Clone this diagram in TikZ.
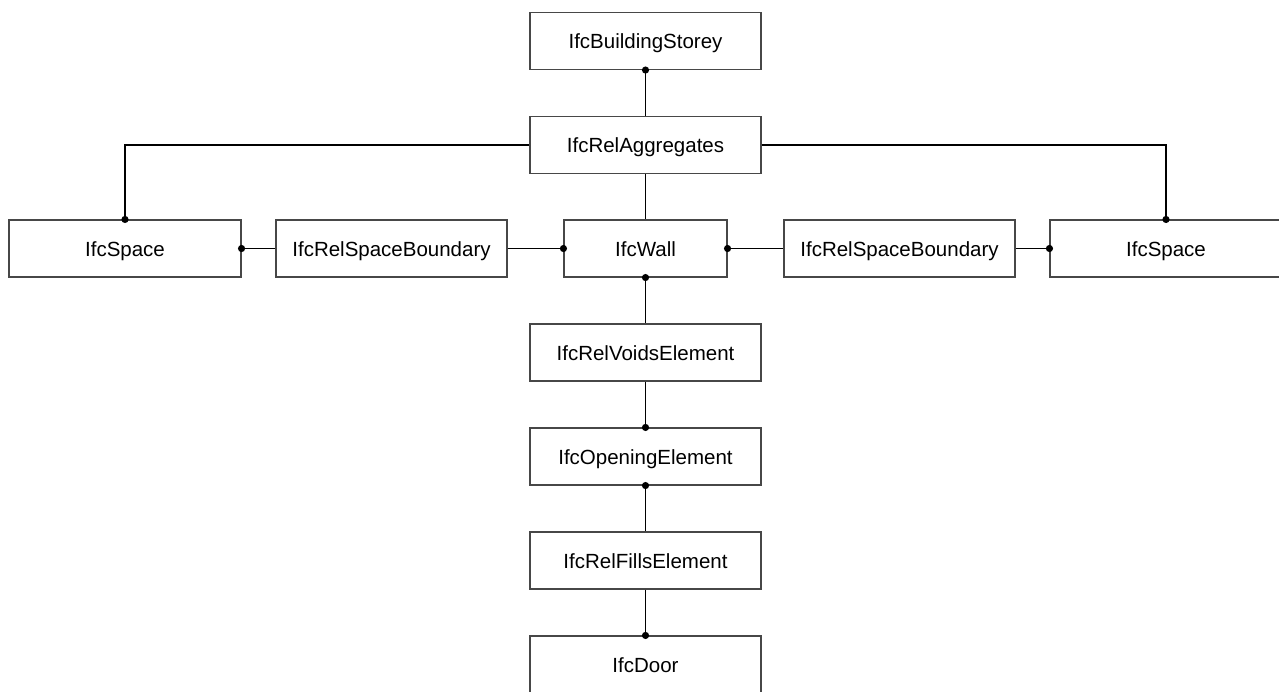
\documentclass[tikz,border=0pt]{standalone}
\usepackage{fontspec}
\setmainfont{Liberation Sans}
\begin{document}
\begin{tikzpicture}[x=1pt,y=-1pt,
  entity/.style={draw=black!72,line width=1.1pt,fill=white,minimum height=57pt,
    inner sep=0pt,text height=15.8pt,text depth=0pt,font=\fontsize{20.5}{24}\selectfont},
  wide/.style={entity,minimum width=231pt},
  link/.style={draw=black,line width=1.1pt},
  jdot/.style={fill=black}]
\useasboundingbox (0,0) rectangle (1279,691);

% boxes of the IFC entities
\node[wide] (storey) at (645.5,41) {IfcBuildingStorey};
\node[wide] (agg) at (645.5,145) {IfcRelAggregates};
\node[entity,minimum width=232pt] (spaceL) at (125,248.5) {IfcSpace};
\node[wide] (rsbL) at (391.5,248.5) {IfcRelSpaceBoundary};
\node[entity,minimum width=163pt] (wall) at (645.5,248.5) {IfcWall};
\node[wide] (rsbR) at (899.5,248.5) {IfcRelSpaceBoundary};
\node[entity,minimum width=232pt] (spaceR) at (1166,248.5) {IfcSpace};
\node[wide] (voids) at (645.5,352.5) {IfcRelVoidsElement};
\node[wide] (opening) at (645.5,456.5) {IfcOpeningElement};
\node[wide] (fills) at (645.5,560.5) {IfcRelFillsElement};
\node[wide] (door) at (645.5,664.5) {IfcDoor};

% relationship connectors
\draw[link] (storey.south) -- (agg.north);
\draw[link] (agg.west) -| (spaceL.north);
\draw[link] (agg.east) -| (spaceR.north);
\draw[link] (agg.south) -- (wall.north);
\draw[link] (rsbL.west) -- (spaceL.east);
\draw[link] (rsbL.east) -- (wall.west);
\draw[link] (rsbR.west) -- (wall.east);
\draw[link] (rsbR.east) -- (spaceR.west);
\draw[link] (wall.south) -- (voids.north);
\draw[link] (voids.south) -- (opening.north);
\draw[link] (opening.south) -- (fills.north);
\draw[link] (fills.south) -- (door.north);

% end points marked with dots
\foreach \p in {storey.south,spaceL.north,spaceR.north,spaceL.east,wall.west,
                wall.east,spaceR.west,wall.south,opening.north,opening.south,door.north}
  \fill[jdot] (\p) circle[radius=3.6pt];
\end{tikzpicture}
\end{document}
